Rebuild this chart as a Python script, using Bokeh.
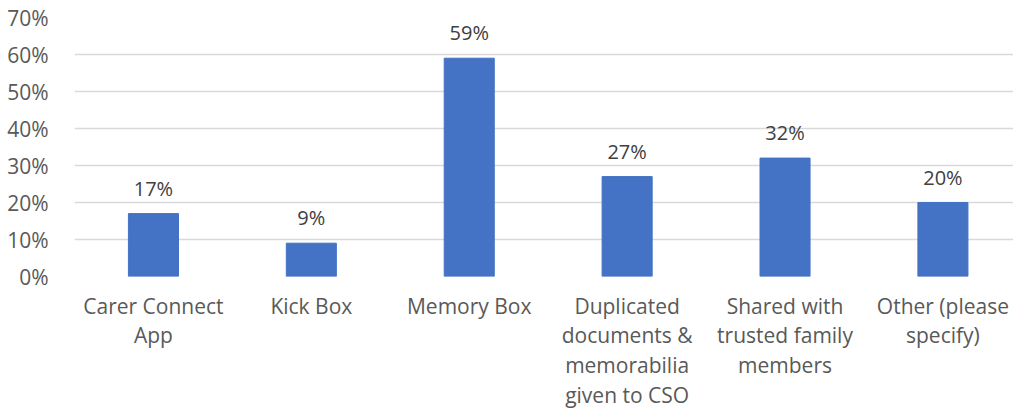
from bokeh.plotting import figure
from bokeh.models import ColumnDataSource, FixedTicker, NumeralTickFormatter, Range1d, LabelSet
from bokeh.core.properties import value
from bokeh.embed import file_html
from bokeh.resources import INLINE

categories = ["Carer Connect App", "Kick Box", "Memory Box",
              "Duplicated documents & memorabilia given to CSO",
              "Shared with trusted family members", "Other (please specify)"]
tick_labels = ["Carer Connect\nApp", "Kick Box", "Memory Box",
               "Duplicated\ndocuments &\nmemorabilia\ngiven to CSO",
               "Shared with\ntrusted family\nmembers", "Other (please\nspecify)"]
values = [0.17, 0.09, 0.59, 0.27, 0.32, 0.20]
value_labels = ["17%", "9%", "59%", "27%", "32%", "20%"]

FONT = "Open Sans"
TEXT = "#595959"

xs = list(range(len(categories)))
src = ColumnDataSource(dict(x=xs, cat=categories, val=values, lab=value_labels))

p = figure(x_range=Range1d(-0.5, 5.447), y_range=Range1d(0, 0.7),
           frame_width=939, frame_height=259, output_backend="svg", toolbar_location=None,
           min_border_left=74, min_border_right=0, min_border_top=17, min_border_bottom=100)
p.outline_line_color = None
p.vbar(x="x", top="val", width=0.317, source=src, color="#4472C4")

labels = LabelSet(x="x", y="val", text="lab", source=src, y_offset=18,
                  text_align="center", text_baseline="alphabetic",
                  text_font=value(FONT), text_font_size="20px", text_color="#404040")
p.add_layout(labels)

p.yaxis.ticker = FixedTicker(ticks=[0, 0.1, 0.2, 0.3, 0.4, 0.5, 0.6, 0.7])
p.yaxis.formatter = NumeralTickFormatter(format="0%")
p.yaxis.axis_line_color = None
p.yaxis.major_tick_line_color = None
p.yaxis.minor_tick_line_color = None
p.yaxis.major_label_text_font = FONT
p.yaxis.major_label_text_font_size = "21px"
p.yaxis.major_label_text_color = TEXT
p.yaxis.major_label_standoff = 20

p.xaxis.ticker = FixedTicker(ticks=xs, minor_ticks=[])
p.xaxis.major_label_overrides = {i: t for i, t in zip(xs, tick_labels)}
p.xaxis.axis_line_color = None
p.xaxis.major_tick_line_color = None
p.xaxis.minor_tick_line_color = None
p.xaxis.major_label_text_font = FONT
p.xaxis.major_label_text_font_size = "21px"
p.xaxis.major_label_text_color = TEXT
p.xaxis.major_label_standoff = 9
p.xaxis.major_label_text_line_height = 1.06

p.xgrid.grid_line_color = None
p.ygrid.grid_line_color = "#d9d9d9"
p.ygrid.grid_line_width = 1.5

open("out.html", "w").write(file_html(p, INLINE))
